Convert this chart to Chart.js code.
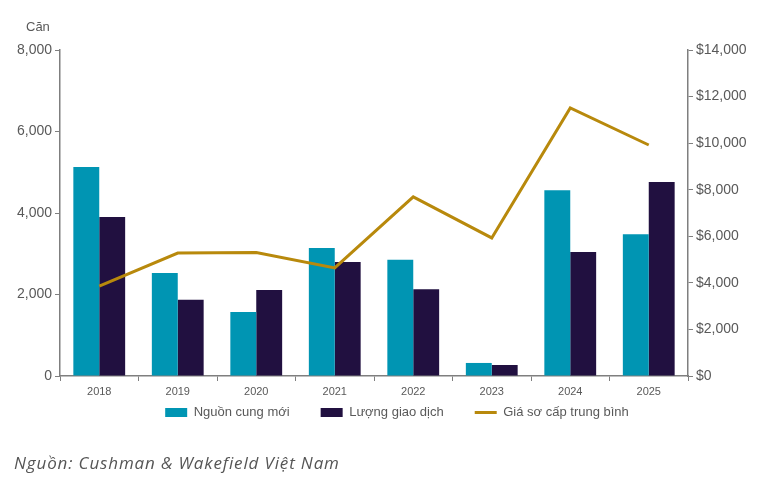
<!DOCTYPE html>
<html>
<head>
<meta charset="utf-8">
<script src="https://cdn.jsdelivr.net/npm/chart.js@4.4.1/dist/chart.umd.min.js"></script>
<style>
  html, body { margin: 0; padding: 0; background: #ffffff; }
  #wrap { position: relative; width: 758px; height: 482px; }
  #c { position: absolute; left: 0; top: 0; }
  #unit { position: absolute; left: 26px; top: 19px; font: 13px "Liberation Sans", Arial, sans-serif; color: #595959; }
  #src { position: absolute; left: 14px; top: 451px; font: italic 17px "Open Sans", "Noto Sans", sans-serif; letter-spacing: 0.85px; color: #555555; }
</style>
</head>
<body>
<div id="wrap">
  <canvas id="c" width="758" height="456"></canvas>
  <div id="unit">Căn</div>
  <div id="src">Nguồn: Cushman &amp; Wakefield Việt Nam</div>
</div>
<script>
const categories = ["2018", "2019", "2020", "2021", "2022", "2023", "2024", "2025"];
const newSupply = [5130, 2530, 1570, 3140, 2850, 320, 4560, 3480];
const transactions = [3900, 1870, 2110, 2800, 2130, 270, 3040, 4760];
const avgPrice = [3860, 5280, 5300, 4640, 7690, 5930, 11510, 9920];
const seriesNames = ["Nguồn cung mới", "Lượng giao dịch", "Giá sơ cấp trung bình"];

const TEAL = "#0095b3", DARK = "#211040", GOLD = "#b8890c", GREY = "#595959", AXIS = "#7f7f7f";
const FONT = "'Liberation Sans', Arial, sans-serif";

const shiftLegend = {
  id: "shiftLegend",
  afterLayout(chart) {
    const lg = chart.legend;
    if (lg) { lg.left += 18; lg.right += 18; lg.top -= 27; lg.bottom -= 27; }
  }
};

new Chart(document.getElementById("c"), {
  type: "bar",
  data: {
    labels: categories,
    datasets: [
      { type: "line", label: seriesNames[2], data: avgPrice, yAxisID: "y2", borderColor: GOLD, backgroundColor: GOLD,
        borderWidth: 3, pointRadius: 0, tension: 0, order: 0 },
      { label: seriesNames[0], data: newSupply, yAxisID: "y", backgroundColor: TEAL, order: 1,
        categoryPercentage: 0.66, barPercentage: 1.0 },
      { label: seriesNames[1], data: transactions, yAxisID: "y", backgroundColor: DARK, order: 2,
        categoryPercentage: 0.66, barPercentage: 1.0 }
    ]
  },
  plugins: [shiftLegend],
  options: {
    responsive: false,
    animation: false,
    layout: { padding: { top: 50, left: 0, right: 0, bottom: 0 } },
    plugins: {
      tooltip: { enabled: false },
      legend: {
        position: "bottom",
        labels: {
          font: { family: FONT, size: 13 },
          color: GREY,
          usePointStyle: true,
          pointStyleWidth: 22,
          boxHeight: 9,
          padding: 31,
          generateLabels: (chart) => {
            const ds = chart.data.datasets;
            return [
              { text: ds[1].label, fillStyle: TEAL, strokeStyle: TEAL, lineWidth: 0, pointStyle: "rect", datasetIndex: 1, fontColor: GREY },
              { text: ds[2].label, fillStyle: DARK, strokeStyle: DARK, lineWidth: 0, pointStyle: "rect", datasetIndex: 2, fontColor: GREY },
              { text: ds[0].label, fillStyle: GOLD, strokeStyle: GOLD, lineWidth: 3, pointStyle: "line", datasetIndex: 0, fontColor: GREY }
            ];
          }
        }
      }
    },
    scales: {
      x: {
        grid: { display: true, drawOnChartArea: false, drawTicks: true, tickLength: 5, color: AXIS, offset: true },
        border: { display: true, color: AXIS, width: 1.5 },
        ticks: { font: { family: FONT, size: 11 }, color: GREY, padding: 4, autoSkip: false, maxRotation: 0 },
        afterFit: (s) => { s.height = 26; }
      },
      y: {
        position: "left",
        min: 0, max: 8000,
        ticks: { stepSize: 2000, font: { family: FONT, size: 14 }, color: GREY, padding: 3,
          callback: (v) => v.toLocaleString("en-US") },
        grid: { display: true, drawOnChartArea: false, drawTicks: true, tickLength: 5, color: AXIS },
        border: { display: true, color: AXIS, width: 1.5 },
        afterFit: (s) => { s.width = 60; }
      },
      y2: {
        position: "right",
        min: 0, max: 14000,
        ticks: { stepSize: 2000, font: { family: FONT, size: 14 }, color: GREY, padding: 3,
          callback: (v) => "$" + v.toLocaleString("en-US") },
        grid: { display: true, drawOnChartArea: false, drawTicks: true, tickLength: 5, color: AXIS },
        border: { display: true, color: AXIS, width: 1.5 },
        afterFit: (s) => { s.width = 70; }
      }
    }
  }
});
</script>
</body>
</html>
